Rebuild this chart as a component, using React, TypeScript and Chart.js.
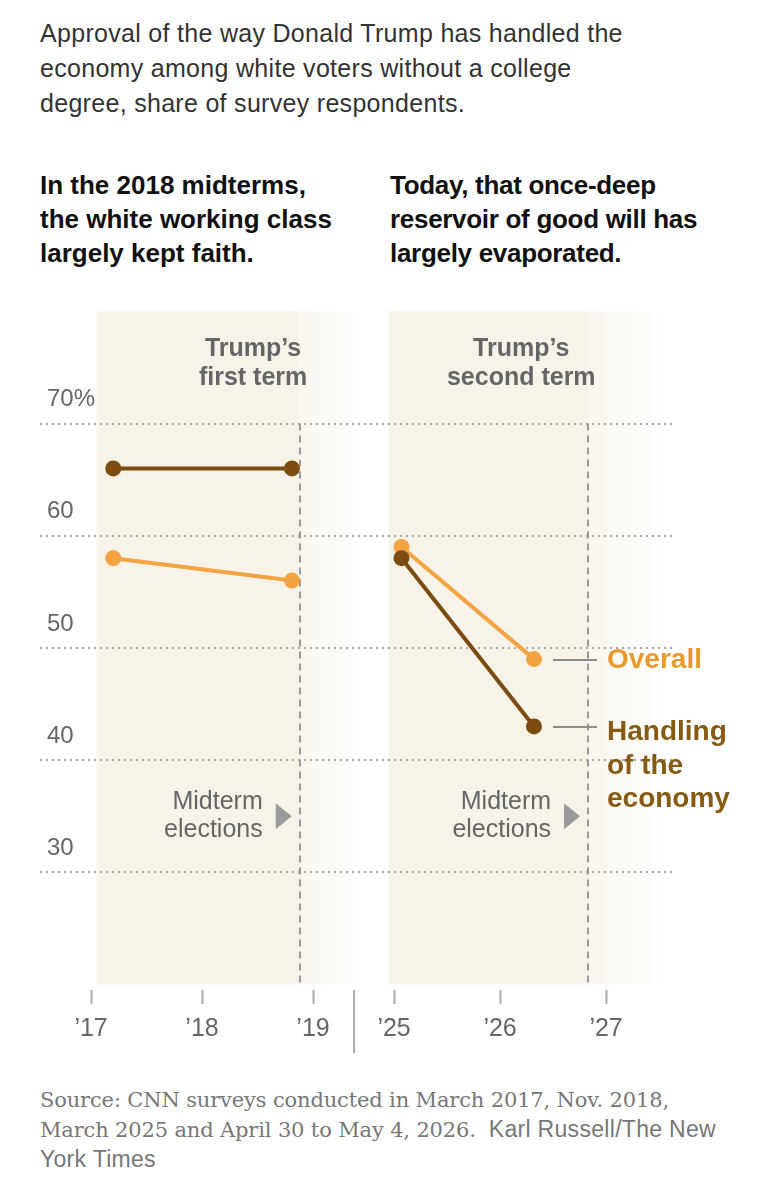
import React, { useEffect, useRef } from "react";
import { Chart, registerables } from "chart.js";

Chart.register(...registerables);

// ---- data ----
const surveyLabels = ["March 2017", "Nov. 2018", "March 2025", "April 30 to May 4, 2026"];
const surveyDates = [2017.2, 2018.81, 2025.07, 2026.32];
const economyApproval = [66, 66, 58, 43];
const overallApproval = [58, 56, 59, 49];
const tickYears = [2017, 2018, 2019, 2025, 2026, 2027];
const tickLabels = ["’17", "’18", "’19", "’25", "’26", "’27"];
const yTickValues = [30, 40, 50, 60, 70];
const midtermDates = [2018.88, 2026.83];
const termStarts = [2017.05, 2024.95];
const termFadeEnds = [2019.45, 2027.6];
const termLabelX = [2018.46, 2026.2];
const termLabels = [["Trump’s", "first term"], ["Trump’s", "second term"]];
const seriesNames = ["Handling of the economy", "Overall"];

// ---- styling ----
const BROWN = "#7b4b0f";
const BROWN_TEXT = "#875a14";
const ORANGE = "#f2a442";
const ORANGE_TEXT = "#e99a2c";
const GRAY_TEXT = "#666666";
const SHADE = "247,243,232";
const SANS = '"Liberation Sans", Arial, sans-serif';

// broken time axis: first term and second term share one linear scale
const RIGHT_OFFSET = 2.73;
const RIGHT_SCALE = 0.955;
const toPos = (t: number) => (t < 2022 ? t - 2017 : RIGHT_OFFSET + (t - 2025) * RIGHT_SCALE);

function App() {
  const ref = useRef<HTMLCanvasElement | null>(null);

  useEffect(() => {
    if (!ref.current) return;
    const mk = (vals: number[]) => surveyDates.map((d, i) => ({ x: toPos(d), y: vals[i] }));
    const segHide = (color: string) => ({
      borderColor: (c: any) => (c.p0DataIndex === 1 ? "rgba(0,0,0,0)" : color),
    });

    const panelPlugin = {
      id: "panels",
      beforeDraw(chart: any) {
        const { ctx, scales } = chart;
        const x = scales.x, y = scales.y;
        const top = y.getPixelForValue(80);
        const bottom = y.getPixelForValue(20);
        ctx.save();
        termStarts.forEach((s, i) => {
          const x0 = x.getPixelForValue(toPos(s));
          const xm = x.getPixelForValue(toPos(midtermDates[i]));
          const x1 = x.getPixelForValue(toPos(termFadeEnds[i]));
          ctx.fillStyle = `rgb(${SHADE})`;
          ctx.fillRect(x0, top, xm - x0, bottom - top);
          const g = ctx.createLinearGradient(xm, 0, x1, 0);
          g.addColorStop(0, `rgba(${SHADE},0.75)`);
          g.addColorStop(1, `rgba(${SHADE},0)`);
          ctx.fillStyle = g;
          ctx.fillRect(xm, top, x1 - xm, bottom - top);
        });
        ctx.restore();
      },
      beforeDatasetsDraw(chart: any) {
        const { ctx, scales } = chart;
        const x = scales.x, y = scales.y;
        ctx.save();
        ctx.strokeStyle = "#9a9a9a";
        ctx.lineWidth = 2;
        ctx.setLineDash([7, 5]);
        midtermDates.forEach((m) => {
          const px = Math.round(x.getPixelForValue(toPos(m)));
          ctx.beginPath();
          ctx.moveTo(px, y.getPixelForValue(70));
          ctx.lineTo(px, y.getPixelForValue(20));
          ctx.stroke();
        });
        ctx.restore();

        // midterm labels
        ctx.save();
        midtermDates.forEach((m) => {
          const px = x.getPixelForValue(toPos(m));
          const py = y.getPixelForValue(35);
          ctx.font = `25px ${SANS}`;
          ctx.fillStyle = GRAY_TEXT;
          ctx.textAlign = "right";
          ctx.textBaseline = "middle";
          ctx.fillText("Midterm", px - 37, py - 14);
          ctx.fillText("elections", px - 37, py + 14);
          ctx.fillStyle = "#9a9a9a";
          ctx.beginPath();
          ctx.moveTo(px - 24, py - 13);
          ctx.lineTo(px - 8, py);
          ctx.lineTo(px - 24, py + 13);
          ctx.closePath();
          ctx.fill();
        });
        ctx.restore();
      },
      afterDraw(chart: any) {
        const { ctx, scales } = chart;
        const x = scales.x, y = scales.y;
        ctx.save();
        // term labels
        ctx.font = `bold 25px ${SANS}`;
        ctx.fillStyle = GRAY_TEXT;
        ctx.textAlign = "center";
        ctx.textBaseline = "middle";
        termLabels.forEach((lines, i) => {
          const px = x.getPixelForValue(toPos(termLabelX[i]));
          const py = y.getPixelForValue(75.35);
          ctx.fillText(lines[0], px, py - 14.5);
          ctx.fillText(lines[1], px, py + 14.5);
        });

        // series labels with leader lines
        const last = surveyDates.length - 1;
        const lx = x.getPixelForValue(toPos(surveyDates[last]));
        const series = [
          { vals: economyApproval, color: BROWN_TEXT, lines: ["Handling", "of the", "economy"], dy: 6 },
          { vals: overallApproval, color: ORANGE_TEXT, lines: ["Overall"], dy: 1 },
        ];
        series.forEach((s) => {
          const py = y.getPixelForValue(s.vals[last]);
          ctx.strokeStyle = "#8c8c8c";
          ctx.lineWidth = 2;
          ctx.setLineDash([]);
          ctx.beginPath();
          ctx.moveTo(lx + 19, Math.round(py) + 1);
          ctx.lineTo(lx + 63, Math.round(py) + 1);
          ctx.stroke();
          ctx.font = `bold 28px ${SANS}`;
          ctx.fillStyle = s.color;
          ctx.textAlign = "left";
          ctx.textBaseline = "middle";
          s.lines.forEach((t, k) => ctx.fillText(t, lx + 73, py + s.dy + k * 33.5));
        });

        // axis break separator
        const sx = (x.getPixelForValue(toPos(2019)) + x.getPixelForValue(toPos(2025))) / 2;
        const yb = chart.chartArea.bottom;
        ctx.strokeStyle = "#aaaaaa";
        ctx.lineWidth = 2;
        ctx.beginPath();
        ctx.moveTo(Math.round(sx), yb);
        ctx.lineTo(Math.round(sx), yb + 63);
        ctx.stroke();
        ctx.restore();
      },
    };

    const chart = new Chart(ref.current, {
      type: "line",
      data: {
        labels: surveyLabels,
        datasets: [
          {
            label: seriesNames[0],
            data: mk(economyApproval),
            borderColor: BROWN,
            backgroundColor: BROWN,
            pointBackgroundColor: BROWN,
            pointBorderWidth: 0,
            pointRadius: 8,
            borderWidth: 4,
            segment: segHide(BROWN),
            clip: false as any,
          },
          {
            label: seriesNames[1],
            data: mk(overallApproval),
            borderColor: ORANGE,
            backgroundColor: ORANGE,
            pointBackgroundColor: ORANGE,
            pointBorderWidth: 0,
            pointRadius: 8,
            borderWidth: 4,
            segment: segHide(ORANGE),
            clip: false as any,
          },
        ],
      },
      options: {
        animation: false,
        responsive: false,
        maintainAspectRatio: false,
        layout: { padding: { top: 16, left: 40, right: 109, bottom: 0 } },
        plugins: { legend: { display: false }, tooltip: { enabled: false } },
        scales: {
          x: {
            type: "linear",
            min: -0.46,
            max: 5.234,
            afterBuildTicks: (scale: any) => {
              scale.ticks = tickYears.map((t) => ({ value: toPos(t) }));
            },
            afterFit: (scale: any) => {
              scale.height = 80;
            },
            ticks: {
              callback: (_v: any, i: number) => tickLabels[i],
              font: { family: SANS, size: 25 },
              color: GRAY_TEXT,
              padding: 10,
              maxRotation: 0,
              autoSkip: false,
            },
            grid: {
              drawOnChartArea: false,
              drawTicks: true,
              tickLength: 14,
              tickColor: "#aaaaaa",
              tickWidth: 2,
              color: "#aaaaaa",
            },
            border: { display: false },
          },
          y: {
            min: 19.5,
            max: 80,
            afterBuildTicks: (scale: any) => {
              scale.ticks = yTickValues.map((v) => ({ value: v }));
            },
            afterFit: (scale: any) => {
              scale.width = 0;
            },
            ticks: {
              mirror: true,
              padding: 7,
              labelOffset: -24,
              callback: (v: any) => (v === 70 ? "70%" : String(v)),
              font: { family: SANS, size: 24 },
              color: GRAY_TEXT,
            },
            grid: { drawTicks: false, color: "#a8a8a8", lineWidth: 2 },
            border: { display: false, dash: [2, 4] },
          },
        },
      },
      plugins: [panelPlugin],
    } as any);
    return () => chart.destroy();
  }, []);

  return (
    <div style={{ position: "absolute", left: 0, top: 0, width: 781, height: 1200, background: "#fff", fontFamily: SANS }}>
      <div style={{ position: "absolute", left: 40, top: 16, width: 720, fontSize: 25, letterSpacing: "0.3px", lineHeight: "35px", color: "#333", whiteSpace: "nowrap" }}>
        Approval of the way Donald Trump has handled the<br />
        economy among white voters without a college<br />
        degree, share of survey respondents.
      </div>
      <div style={{ position: "absolute", left: 40, top: 168, width: 330, fontSize: 26, fontWeight: 700, lineHeight: "34px", color: "#111", whiteSpace: "nowrap" }}>
        In the 2018 midterms,<br />the white working class<br />largely kept faith.
      </div>
      <div style={{ position: "absolute", left: 390, top: 168, width: 330, fontSize: 26, fontWeight: 700, lineHeight: "34px", color: "#111", whiteSpace: "nowrap", letterSpacing: "-0.3px" }}>
        Today, that once-deep<br />reservoir of good will has<br />largely evaporated.
      </div>
      <canvas ref={ref} width={781} height={780} style={{ position: "absolute", left: 0, top: 290, width: 781, height: 780 }} />
      <div style={{ position: "absolute", left: 40, top: 1086, width: 740, fontSize: 21, lineHeight: "29px", color: "#777", fontFamily: '"DejaVu Serif", serif', letterSpacing: "-0.15px", whiteSpace: "nowrap" }}>
        Source: CNN surveys conducted in March 2017, Nov. 2018,<br />
        March 2025 and April 30 to May 4, 2026.{"\u00a0 "}
        <span style={{ fontFamily: SANS, fontSize: 23, letterSpacing: "0.3px" }}>Karl Russell/The New</span><br />
        <span style={{ fontFamily: SANS, fontSize: 23, letterSpacing: "0.3px" }}>York Times</span>
      </div>
    </div>
  );
}

export default App;
